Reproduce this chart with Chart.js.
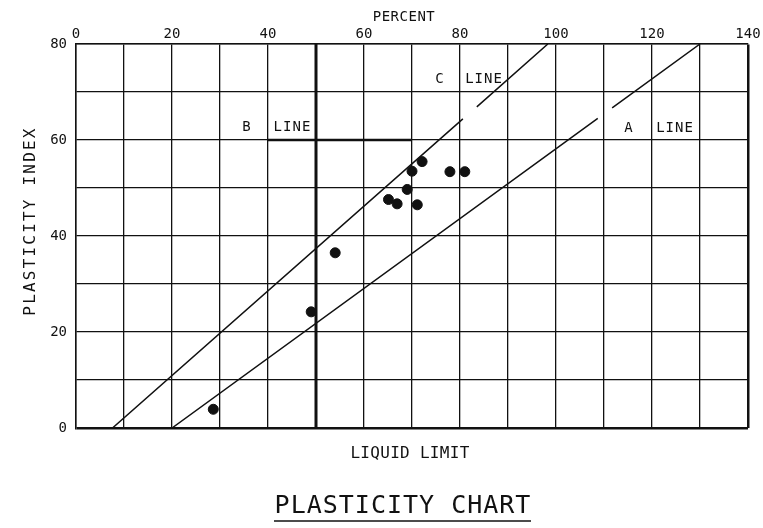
<!DOCTYPE html>
<html lang="en">
<head>
<meta charset="UTF-8">
<title>Plasticity Chart</title>
<script src="https://cdn.jsdelivr.net/npm/chart.js"></script>
<style>
  body { margin: 0; background: #fff; }
</style>
</head>
<body>
<canvas id="plasticityChart" width="763" height="528"></canvas>
<script>
// soil samples: liquid limit (x) vs plasticity index (y)
const liquidLimit     = [28.6, 49.0, 54.0, 65.1, 66.9, 69.0, 70.0, 71.1, 72.1, 77.9, 81.0];
const plasticityIndex = [3.9, 24.2, 36.5, 47.6, 46.7, 49.7, 53.5, 46.5, 55.5, 53.4, 53.4];

// reference lines (null = break in the pen line next to the label)
const cLineX = [7.6, 80.6, null, 83.5, 98.3];
const cLineY = [0, 64.4, null, 66.9, 80];
const aLineX = [20, 108.7, null, 111.7, 130];
const aLineY = [0, 64.5, null, 66.7, 80];
const bVertX = [50, 50];
const bVertY = [0, 80];
const bFlatX = [40, 70];
const bFlatY = [60, 60];

// line labels, placed in data units
const lineLabelText = ['B', 'LINE', 'C', 'LINE', 'A', 'LINE'];
const lineLabelX    = [35.6, 45.1, 75.8, 85.0, 115.2, 124.8];
const lineLabelY    = [62.6, 62.6, 72.6, 72.6, 62.4, 62.4];

const xTickStep = 10, xLabelEvery = 20;
const yTickStep = 10, yLabelEvery = 20;

const ink = '#111';
const pen = 'DejaVu Sans Mono';

const pts = (xs, ys) => xs.map((v, i) => ({ x: v, y: ys[i] }));

function penLine(label, xs, ys, width) {
    return {
        type: 'line',
        label: label,
        data: pts(xs, ys),
        borderColor: ink,
        borderWidth: width,
        pointRadius: 0,
        spanGaps: false,
        fill: false
    };
}

const plotterText = {
    id: 'plotterText',
    afterDraw(chart) {
        const { ctx, scales: { x, y } } = chart;
        ctx.save();
        ctx.fillStyle = ink;
        ctx.textAlign = 'center';
        ctx.textBaseline = 'middle';

        // labels on the reference lines
        ctx.font = '14px "' + pen + '"';
        ctx.letterSpacing = '1px';
        lineLabelText.forEach((t, i) => {
            ctx.fillText(t, x.getPixelForValue(lineLabelX[i]), y.getPixelForValue(lineLabelY[i]));
        });

        // top title
        ctx.letterSpacing = '0.5px';
        ctx.fillText('PERCENT', 404, 17);

        // y axis title
        ctx.save();
        ctx.translate(31, 221);
        ctx.rotate(-Math.PI / 2);
        ctx.font = '16px "' + pen + '"';
        ctx.letterSpacing = '2.2px';
        ctx.fillText('PLASTICITY INDEX', 0, 0);
        ctx.restore();

        // x axis title
        ctx.font = '16px "' + pen + '"';
        ctx.letterSpacing = '0.3px';
        ctx.fillText('LIQUID LIMIT', 410, 454);

        // chart title, underlined
        ctx.font = '25px "' + pen + '"';
        ctx.letterSpacing = '1px';
        ctx.fillText('PLASTICITY CHART', 403, 506);
        ctx.strokeStyle = ink;
        ctx.lineWidth = 1.5;
        ctx.beginPath();
        ctx.moveTo(274, 521);
        ctx.lineTo(531, 521);
        ctx.stroke();
        ctx.restore();
    }
};

new Chart(document.getElementById('plasticityChart'), {
    type: 'scatter',
    data: {
        datasets: [
            {
                label: 'Samples',
                data: pts(liquidLimit, plasticityIndex),
                backgroundColor: ink,
                borderColor: ink,
                pointRadius: 5,
                pointHoverRadius: 5
            },
            penLine('C line', cLineX, cLineY, 1.5),
            penLine('A line', aLineX, aLineY, 1.5),
            penLine('B line', bVertX, bVertY, 3),
            penLine('B line top', bFlatX, bFlatY, 2.5)
        ]
    },
    options: {
        responsive: false,
        animation: false,
        layout: { padding: { left: 0, top: 0, right: 15, bottom: 100 } },
        plugins: {
            legend: { display: false },
            tooltip: { enabled: false }
        },
        scales: {
            x: {
                type: 'linear',
                position: 'top',
                min: 0,
                max: 140,
                afterFit: s => { s.height = 44; },
                ticks: {
                    stepSize: xTickStep,
                    autoSkip: false,
                    maxRotation: 0,
                    padding: 1,
                    color: ink,
                    font: { family: pen, size: 14 },
                    callback: v => (v % xLabelEvery === 0 ? v : '')
                },
                grid: {
                    color: ink,
                    drawTicks: false,
                    lineWidth: c => (c.tick && c.tick.value === 140 ? 2.5 : 1.3)
                },
                border: { display: true, color: ink, width: 1.5 }
            },
            y: {
                type: 'linear',
                position: 'left',
                min: 0,
                max: 80,
                afterFit: s => { s.width = 76; },
                ticks: {
                    stepSize: yTickStep,
                    autoSkip: false,
                    padding: 9,
                    color: ink,
                    font: { family: pen, size: 14 },
                    callback: v => (v % yLabelEvery === 0 ? v : '')
                },
                grid: {
                    color: ink,
                    drawTicks: false,
                    lineWidth: c => (c.tick && c.tick.value === 0 ? 2.5 : 1.3)
                },
                border: { display: true, color: ink, width: 1.5 }
            }
        }
    },
    plugins: [plotterText]
});
</script>
</body>
</html>
